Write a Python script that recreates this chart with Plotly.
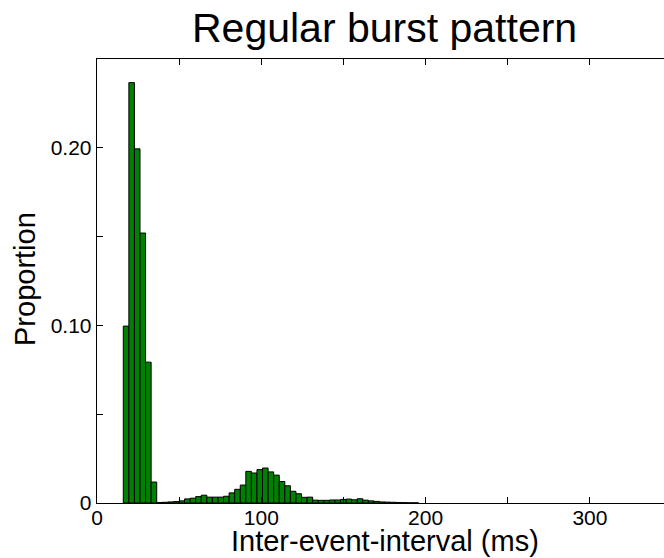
import plotly.graph_objects as go

# Histogram of inter-event intervals (ms); proportions per bin
bin_start = 16.0      # ms, left edge of first bin
bin_width = 3.39      # ms
proportions = [
    0.0996, 0.2367, 0.1994, 0.1520, 0.0793, 0.0118,
    0.0003, 0.0004, 0.0006, 0.0008, 0.0012, 0.0023, 0.0027, 0.0036, 0.0044,
    0.0033, 0.0033, 0.0033, 0.0038, 0.0057, 0.0077, 0.0101,
    0.0178, 0.0169, 0.0188, 0.0197, 0.0175, 0.0157, 0.0121, 0.0097, 0.0066, 0.0052,
    0.0032, 0.0033, 0.0016, 0.0015, 0.0015, 0.0017, 0.0017, 0.0020, 0.0022, 0.0018,
    0.0024, 0.0016, 0.0012, 0.0009, 0.0006, 0.0005, 0.0004, 0.0003, 0.0002, 0.0001,
    0.0001,
]

x_tickvals = [0, 50, 100, 150, 200, 250, 300, 350]
x_ticktext = ["0", "", "100", "", "200", "", "300", ""]
y_tickvals = [0, 0.05, 0.10, 0.15, 0.20, 0.25]
y_ticktext = ["0", "", "0.10", "", "0.20", ""]

centers = [bin_start + bin_width * (i + 0.5) for i in range(len(proportions))]

FONT = "Liberation Sans, Arial, sans-serif"

fig = go.Figure(
    go.Bar(
        x=centers,
        y=proportions,
        width=bin_width,
        marker=dict(color="#008000", line=dict(color="black", width=1)),
    )
)

W, H = 664, 558
L, R, T, B = 97, 0, 59, 55
PW, PH = W - L - R, H - T - B

def px(fx):
    return (fx - L) / PW

def py(fy):
    return (H - B - fy) / PH

fig.update_layout(
    width=W,
    height=H,
    margin=dict(l=L, r=R, t=T, b=B, pad=0),
    plot_bgcolor="white",
    paper_bgcolor="white",
    showlegend=False,
    font=dict(family=FONT, color="black", size=21),
    bargap=0,
)

fig.update_xaxes(
    range=[0, 345.1],
    showline=True, linecolor="black", linewidth=1.3, mirror="ticks",
    ticks="inside", ticklen=6, tickwidth=1, tickcolor="black",
    tickvals=x_tickvals, ticktext=x_ticktext,
    tickfont=dict(size=21, family=FONT),
    ticklabelstandoff=-5,
    showgrid=False, zeroline=False,
)
fig.update_yaxes(
    range=[0, 0.25],
    showline=True, linecolor="black", linewidth=1.3, mirror=False,
    ticks="inside", ticklen=6, tickwidth=1, tickcolor="black",
    tickvals=y_tickvals, ticktext=y_ticktext,
    tickfont=dict(size=21, family=FONT),
    showgrid=False, zeroline=False,
)

# Title and axis titles
fig.add_annotation(
    text="Regular burst pattern", xref="paper", yref="paper",
    x=px(384.5), y=py(28),
    xanchor="center", yanchor="middle", showarrow=False,
    font=dict(size=41, family=FONT, color="black"),
)
fig.add_annotation(
    text="Inter-event-interval (ms)", xref="paper", yref="paper",
    x=px(384.5), y=py(541),
    xanchor="center", yanchor="middle", showarrow=False,
    font=dict(size=29, family=FONT, color="black"),
)
fig.add_annotation(
    text="Proportion", xref="paper", yref="paper",
    x=px(25), y=py(279),
    xanchor="center", yanchor="middle", showarrow=False, textangle=-90,
    font=dict(size=29, family=FONT, color="black"),
)

# Remove the default page margin so the figure fills the window exactly.
fig.write_html(
    "out.html",
    config={"displayModeBar": False, "staticPlot": True},
    post_script="document.body.style.margin='0';document.body.style.overflow='hidden';",
)
